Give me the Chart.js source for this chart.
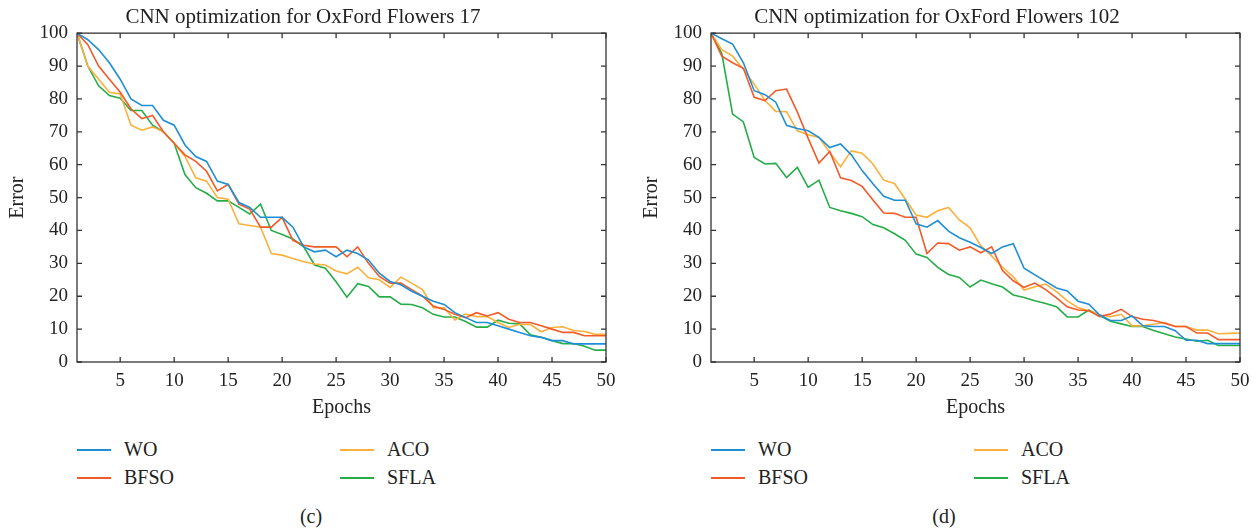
<!DOCTYPE html>
<html>
<head>
<meta charset="utf-8">
<script src="https://cdn.jsdelivr.net/npm/chart.js@4/dist/chart.umd.min.js"></script>
<style>
  body { margin: 0; background: #fff; width: 1259px; height: 531px; overflow: hidden; position: relative; font-family: "Liberation Serif", "DejaVu Serif", serif; color: #222; }
  .box { position: absolute; top: 0; height: 420px; }
  .leg { position: absolute; font-size: 20px; line-height: 24px; }
  .leg i { position: absolute; top: 12px; width: 34px; height: 0; border-top: 2px solid; left: -47px; }
  .cap { position: absolute; top: 505px; font-size: 20px; width: 40px; text-align: center; }
</style>
</head>
<body>
<div class="box" style="left:0;width:629px"><canvas id="graficoA"></canvas></div>
<div class="box" style="left:634px;width:625px"><canvas id="graficoB"></canvas></div>

<div class="leg" style="left:124px;top:437px"><i style="border-color:#1e8fd5"></i>WO</div>
<div class="leg" style="left:124px;top:465px"><i style="border-color:#f15a29"></i>BFSO</div>
<div class="leg" style="left:387px;top:437px"><i style="border-color:#fbb03b"></i>ACO</div>
<div class="leg" style="left:387px;top:465px"><i style="border-color:#25ad4a"></i>SFLA</div>
<div class="cap" style="left:291px">(c)</div>

<div class="leg" style="left:758px;top:437px"><i style="border-color:#1e8fd5"></i>WO</div>
<div class="leg" style="left:758px;top:465px"><i style="border-color:#f15a29"></i>BFSO</div>
<div class="leg" style="left:1021px;top:437px"><i style="border-color:#fbb03b"></i>ACO</div>
<div class="leg" style="left:1021px;top:465px"><i style="border-color:#25ad4a"></i>SFLA</div>
<div class="cap" style="left:924px">(d)</div>

<script>
// Oxford Flowers 17
var wo17 = [100, 98, 95, 91, 86, 80, 78, 78, 73.5, 72, 66, 62.5, 61, 55, 54, 48.5, 47, 44, 44, 44,
  41, 35, 33.5, 34, 32, 34, 33, 31, 27, 24.5, 23.5, 21.5, 20, 18.5, 17.5, 15, 13.5, 12, 12, 11,
  10, 9, 8, 7.5, 6.5, 6.5, 5.5, 5.5, 5.5, 5.5];
var bfso17 = [100, 96.5, 90, 86, 82, 77, 74, 75, 70, 66.5, 63, 61, 58, 52, 54, 48, 46.5, 41, 41, 44,
  37, 35.5, 35, 35, 35, 32, 35, 30, 26, 24, 24, 22, 20, 17, 16, 14.5, 13.5, 15, 14, 15,
  13, 12, 12, 11, 10, 9, 9, 8, 8, 8];
var aco17 = [100, 90, 86, 82, 81.5, 72, 70.5, 71.5, 70, 66.5, 62.5, 56, 55, 50, 49.5, 42, 41.5, 41, 33, 32.5,
  31.5, 30.5, 29.8, 29.5, 27.7, 26.8, 28.8, 25.6, 25, 22.7, 25.8, 24, 22, 16.5, 16.5, 12.8, 14.6, 13.8, 13.8, 12,
  10.5, 11.5, 11.4, 9.2, 10.5, 10.7, 9.6, 9.3, 8.4, 8.4];
var sfla17 = [100, 90, 84, 81, 80.2, 76.5, 76.5, 72, 70, 66.5, 57, 53, 51.3, 49, 49, 47, 45, 48, 40, 38.8,
  37.4, 35, 29.5, 28.5, 24.4, 19.7, 23.8, 23, 19.8, 19.8, 17.6, 17.5, 16.5, 14.5, 13.7, 13.7, 12.3, 10.6, 10.6, 12.7,
  11.8, 11.6, 8.3, 7.5, 6.5, 5.6, 5.6, 4.8, 3.6, 3.6];

// Oxford Flowers 102
var wo102 = [100, 98.3, 96.7, 91, 82.5, 81.3, 79, 72, 71, 70.3, 68.3, 65.2, 66.3, 63, 58.2, 54.2, 50.4, 49.2, 49.2, 42,
  41, 43, 39.8, 37.8, 36.4, 34.8, 33, 35, 36, 28.5, 26.5, 24.5, 22.5, 21.6, 18.5, 17.6, 14.3, 12.6, 12.6, 14,
  11, 10.8, 10.8, 9.5, 6.6, 6.6, 5.6, 5.6, 5.6, 5.6];
var bfso102 = [100, 93, 91, 89.3, 80.5, 79.5, 82.5, 83, 76, 68, 60.5, 64, 56, 55.2, 53.4, 49.3, 45.3, 45.2, 44, 44,
  33, 36.2, 36, 34, 35, 33.2, 35, 27.8, 24.7, 22.7, 24, 22, 19.5, 16.8, 15.8, 15.6, 13.8, 14.6, 16, 13.8,
  13, 12.6, 11.8, 10.8, 10.8, 8.8, 8.8, 6.8, 6.8, 6.8];
var aco102 = [100, 95, 93, 89, 84.5, 79.5, 76.2, 76.1, 70.3, 69.1, 68.3, 63.7, 59.4, 64.2, 63.5, 60.2, 55.3, 54.3, 49.5, 44.7,
  44, 46, 47, 43.2, 40.8, 35.3, 32.2, 28.8, 25.9, 21.9, 22.9, 23.7, 21.4, 18.6, 16.5, 15.6, 14.3, 13.8, 14.5, 11,
  11, 11.5, 12, 10.8, 10.8, 9.7, 9.7, 8.6, 8.7, 8.8];
var sfla102 = [100, 93.8, 75.4, 73, 62.2, 60.2, 60.4, 56.1, 59.2, 53.1, 55.3, 47, 46, 45.2, 44.2, 41.8, 40.8, 39, 37, 32.8,
  31.8, 28.8, 26.6, 25.7, 22.8, 24.9, 23.8, 22.8, 20.4, 19.6, 18.6, 17.8, 16.8, 13.7, 13.7, 15.8, 14.1, 12.4, 11.6, 10.8,
  10.8, 9.6, 8.6, 7.6, 7, 6.3, 6.6, 5, 5, 5];

var xTicks = [5, 10, 15, 20, 25, 30, 35, 40, 45, 50];
var yTicks = [0, 10, 20, 30, 40, 50, 60, 70, 80, 90, 100];

var cores = { WO: '#1e8fd5', BFSO: '#f15a29', ACO: '#fbb03b', SFLA: '#25ad4a' };
var fonte = '"Liberation Serif", "DejaVu Serif", serif';

function pontos(arr) {
  return arr.map(function (v, i) { return { x: i + 1, y: v }; });
}

function serie(nome, arr) {
  return {
    label: nome, data: pontos(arr), borderColor: cores[nome], backgroundColor: cores[nome],
    borderWidth: 1.6, pointRadius: 0, tension: 0, fill: false
  };
}

// frame + inward ticks on all four sides
var moldura = {
  id: 'moldura',
  afterDraw: function (chart) {
    var ctx = chart.ctx, a = chart.chartArea;
    var sx = chart.scales.x, sy = chart.scales.y;
    ctx.save();
    ctx.strokeStyle = '#333';
    ctx.lineWidth = 1.3;
    ctx.strokeRect(a.left, a.top, a.right - a.left, a.bottom - a.top);
    ctx.beginPath();
    xTicks.forEach(function (t) {
      var px = sx.getPixelForValue(t);
      ctx.moveTo(px, a.bottom); ctx.lineTo(px, a.bottom - 5);
      ctx.moveTo(px, a.top); ctx.lineTo(px, a.top + 5);
    });
    yTicks.forEach(function (t) {
      var py = sy.getPixelForValue(t);
      ctx.moveTo(a.left, py); ctx.lineTo(a.left + 5, py);
      ctx.moveTo(a.right, py); ctx.lineTo(a.right - 5, py);
    });
    ctx.stroke();
    ctx.restore();
  }
};

function grafico(id, titulo, wo, bfso, aco, sfla, dir) {
  new Chart(document.getElementById(id), {
    type: 'line',
    data: { datasets: [serie('WO', wo), serie('BFSO', bfso), serie('ACO', aco), serie('SFLA', sfla)] },
    options: {
      responsive: true,
      maintainAspectRatio: false,
      animation: false,
      layout: { padding: { left: 0, right: dir, top: 0, bottom: 0 } },
      plugins: {
        legend: { display: false },
        tooltip: { enabled: false },
        title: {
          display: true, text: titulo, color: '#222',
          font: { family: fonte, size: 21, weight: 'normal', lineHeight: 1.15 },
          padding: { top: 5, bottom: 4 }
        }
      },
      scales: {
        x: {
          type: 'linear', min: 1, max: 50,
          afterBuildTicks: function (s) { s.ticks = xTicks.map(function (v) { return { value: v }; }); },
          afterFit: function (s) { s.height = 58; },
          grid: { display: false, drawTicks: false },
          border: { display: false },
          ticks: { color: '#222', padding: 8, maxRotation: 0, font: { family: fonte, size: 19 } },
          title: { display: true, text: 'Epochs', color: '#222', padding: { top: 0, bottom: 0 }, font: { family: fonte, size: 20 } }
        },
        y: {
          min: 0, max: 100,
          afterBuildTicks: function (s) { s.ticks = yTicks.map(function (v) { return { value: v }; }); },
          afterFit: function (s) { s.width = 77; },
          grid: { display: false, drawTicks: false },
          border: { display: false },
          ticks: { color: '#222', padding: 9, font: { family: fonte, size: 19 } },
          title: { display: true, text: 'Error', color: '#222', padding: { top: 6, bottom: 0 }, font: { family: fonte, size: 20 } }
        }
      }
    },
    plugins: [moldura]
  });
}

document.addEventListener("DOMContentLoaded", function () {
  grafico('graficoA', 'CNN optimization for OxFord Flowers 17', wo17, bfso17, aco17, sfla17, 23);
  grafico('graficoB', 'CNN optimization for OxFord Flowers 102', wo102, bfso102, aco102, sfla102, 19);
});
</script>
</body>
</html>
